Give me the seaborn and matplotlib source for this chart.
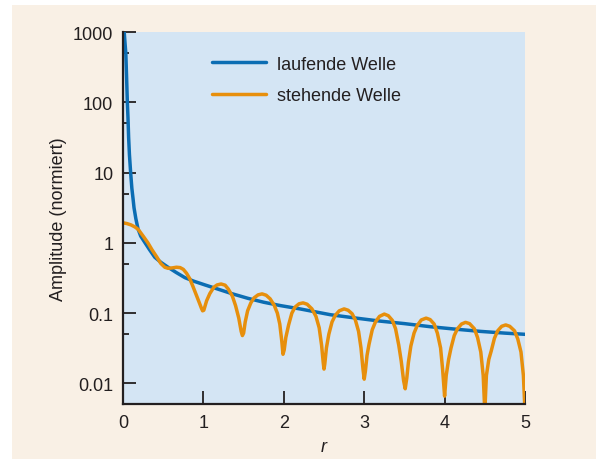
import numpy as np
import pandas as pd
import seaborn as sns
import matplotlib.pyplot as plt
from matplotlib.patches import Rectangle

# laufende Welle
r_lauf = [0.015, 0.025, 0.035, 0.045, 0.054, 0.062, 0.07, 0.08, 0.095, 0.11, 0.125, 0.137,
          0.16, 0.187, 0.22, 0.27, 0.33, 0.395, 0.47, 0.56, 0.66, 0.77, 0.88, 1.02, 1.18,
          1.35, 1.55, 1.75, 1.96, 2.2, 2.58, 2.9, 3.2, 3.5, 3.83, 4.15, 4.45, 4.75, 5.0]
v_lauf = [1000, 700, 500, 220, 100, 60, 31.6, 18, 10, 6.0, 4.24, 3.16,
          2.2, 1.58, 1.25, 1.02, 0.8, 0.625, 0.53, 0.45, 0.38, 0.32, 0.285, 0.252, 0.22,
          0.19, 0.163, 0.143, 0.128, 0.115, 0.095, 0.085, 0.077, 0.071, 0.064, 0.059, 0.055, 0.052, 0.050]

# stehende Welle
r_steh = [0.0, 0.05, 0.1, 0.15, 0.19, 0.25, 0.31, 0.36, 0.42, 0.47, 0.52, 0.56, 0.61, 0.665,
          0.71, 0.75, 0.79, 0.83, 0.87, 0.915, 0.95, 0.975, 0.99, 1.005, 1.02, 1.04, 1.08,
          1.13, 1.17, 1.22, 1.27, 1.31, 1.36, 1.40, 1.44, 1.47, 1.485, 1.50, 1.52, 1.55,
          1.59, 1.63, 1.68, 1.73, 1.78, 1.83, 1.88, 1.92, 1.95, 1.975, 1.99, 2.005, 2.025,
          2.06, 2.10, 2.14, 2.19, 2.24, 2.29, 2.35, 2.40, 2.44, 2.47, 2.49, 2.50, 2.51,
          2.53, 2.56, 2.60, 2.64, 2.69, 2.75, 2.80, 2.85, 2.89, 2.93, 2.96, 2.985, 3.0,
          3.015, 3.035, 3.06, 3.10, 3.14, 3.19, 3.25, 3.30, 3.35, 3.39, 3.43, 3.46, 3.49,
          3.51, 3.53, 3.55, 3.58, 3.62, 3.66, 3.71, 3.77, 3.82, 3.87, 3.91, 3.95, 3.975,
          4.0, 4.02, 4.05, 4.08, 4.12, 4.16, 4.21, 4.26, 4.31, 4.37, 4.41, 4.45, 4.48,
          4.50, 4.52, 4.55, 4.58, 4.62, 4.66, 4.71, 4.76, 4.81, 4.87, 4.91, 4.95, 4.98, 5.0]
v_steh = [1.93, 1.88, 1.8, 1.68, 1.55, 1.25, 1.0, 0.8, 0.63, 0.51, 0.45, 0.435, 0.44, 0.45,
          0.445, 0.42, 0.37, 0.31, 0.24, 0.178, 0.14, 0.118, 0.108, 0.11, 0.125, 0.15, 0.19,
          0.234, 0.252, 0.26, 0.25, 0.22, 0.175, 0.128, 0.085, 0.055, 0.048, 0.052, 0.075, 0.108,
          0.14, 0.165, 0.182, 0.188, 0.18, 0.16, 0.13, 0.1, 0.07, 0.04, 0.026, 0.03, 0.045,
          0.068, 0.1, 0.122, 0.136, 0.14, 0.134, 0.115, 0.09, 0.062, 0.035, 0.02, 0.016, 0.019,
          0.032, 0.05, 0.075, 0.093, 0.108, 0.115, 0.11, 0.098, 0.08, 0.055, 0.032, 0.016, 0.0115,
          0.015, 0.025, 0.036, 0.058, 0.075, 0.09, 0.097, 0.092, 0.079, 0.06, 0.035, 0.021, 0.011,
          0.0084, 0.012, 0.02, 0.034, 0.052, 0.067, 0.08, 0.085, 0.081, 0.07, 0.052, 0.032, 0.016,
          0.0066, 0.013, 0.022, 0.032, 0.048, 0.06, 0.07, 0.074, 0.071, 0.06, 0.045, 0.028, 0.013,
          0.004, 0.013, 0.022, 0.029, 0.044, 0.056, 0.065, 0.068, 0.065, 0.056, 0.043, 0.028, 0.013, 0.004]

labels = ["laufende Welle", "stehende Welle"]
yticks = [0.01, 0.1, 1, 10, 100, 1000]
ytick_labels = ["0.01", "0.1", "1", "10", "100", "1000"]
xticks = [0, 1, 2, 3, 4, 5]

sns.set_style("ticks")
plt.rcParams['font.family'] = ['Liberation Sans', 'DejaVu Sans']
plt.rcParams['text.color'] = '#231f20'

blue = '#0b6db3'
orange = '#e78f0c'
ink = '#231f20'

fig = plt.figure(figsize=(6.02, 4.6), dpi=100, facecolor='white')
fig.patches.append(Rectangle((12 / 602, 0), 584 / 602, 454 / 460, transform=fig.transFigure,
                             facecolor='#f9f0e5', edgecolor='none', zorder=-10))
ax = fig.add_axes([123 / 602, 55 / 460, 402 / 602, 372 / 460])
ax.set_facecolor('#d4e5f4')

df_lauf = pd.DataFrame({"r": r_lauf, "v": v_lauf})
df_steh = pd.DataFrame({"r": r_steh, "v": v_steh})
sns.lineplot(data=df_lauf, x="r", y="v", ax=ax, color=blue, lw=2.5, sort=False,
             estimator=None, label=labels[0])
sns.lineplot(data=df_steh, x="r", y="v", ax=ax, color=orange, lw=2.5, sort=False,
             estimator=None, label=labels[1])

ax.set_yscale('log')
ax.set_xlim(0, 5)
ax.set_ylim(0.0051, 1000)
ax.set_yticks(yticks)
ax.set_yticklabels(ytick_labels)
ax.set_yticks([0.05, 0.5, 5, 50, 500], minor=True)
ax.yaxis.set_minor_formatter(plt.NullFormatter())
ax.set_xticks(xticks)
ax.set_xticklabels([str(t) for t in xticks])

ax.tick_params(axis='both', which='major', direction='in', length=9.5, width=1.3,
               color=ink, labelsize=13, labelcolor=ink, pad=7)
ax.tick_params(axis='y', which='minor', direction='in', length=4.5, width=1.3, color=ink)
ax.tick_params(axis='x', which='minor', length=0)

for s in ['top', 'right']:
    ax.spines[s].set_visible(False)
for s in ['left', 'bottom']:
    ax.spines[s].set_color(ink)
    ax.spines[s].set_linewidth(1.6)

ax.set_xlabel("r", fontsize=13, style='italic', color=ink, labelpad=5)
ax.set_ylabel("Amplitude (normiert)", fontsize=13, color=ink, labelpad=4)

ax.legend(loc='upper left', bbox_to_anchor=(0.18, 0.98), frameon=False, fontsize=13,
          handlelength=3.0, handletextpad=0.6, labelspacing=0.8)

fig.savefig("out.png", dpi=100, facecolor=fig.get_facecolor())
